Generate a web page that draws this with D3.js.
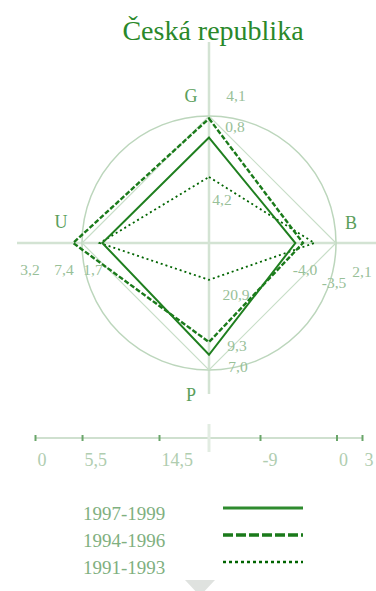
<!DOCTYPE html>
<html>
<head>
<meta charset="utf-8">
<script src="https://cdn.jsdelivr.net/npm/d3@7"></script>
<style>
  html, body { margin: 0; padding: 0; background: #fff; }
  svg { display: block; font-family: "Liberation Serif", "DejaVu Serif", serif; }
</style>
</head>
<body>
<svg id="chart" width="376" height="591"></svg>
<script>
// magic quadrangle, Czech republic
var axes = ["G", "B", "P", "U"];
var periods = ["1997-1999", "1994-1996", "1991-1993"];

// plotted position on each axis, in % of the circle radius (G, B, P, U)
var vals1997 = [83, 68, 88, 84];
var vals1994 = [98, 74, 78, 107];
var vals1991 = [52, 83, 29, 86];

// printed values next to the corners (G, B, P, U)
var labels1997 = ["0,8", "-4,0", "7,0", "7,4"];
var labels1994 = ["4,1", "-3,5", "9,3", "3,2"];
var labels1991 = ["4,2", "2,1", "20,9", "1,7"];

// scale key under the chart
var uTicks = [0, 5.5, 14.5];
var bTicks = [-9, 0, 3];

var series = [
  {name: periods[0], vals: vals1997, labels: labels1997, color: "#1f7f1f", width: 2, dash: null},
  {name: periods[1], vals: vals1994, labels: labels1994, color: "#1a7a1a", width: 2.4, dash: "5,2"},
  {name: periods[2], vals: vals1991, labels: labels1991, color: "#006400", width: 1.8, dash: "2,3"}
];

var svg = d3.select("#chart");
var cx = 209, cy = 243, R = 127;

var r = d3.scaleLinear().domain([0, 100]).range([0, R]);
var angle = d3.scalePoint().domain(axes).range([0, 1.5 * Math.PI]);

svg.append("text")
  .attr("x", 213).attr("y", 40)
  .attr("text-anchor", "middle")
  .attr("font-size", 28)
  .attr("fill", "#2a882a")
  .text("Česká republika");

var g = svg.append("g").attr("transform", "translate(" + cx + "," + cy + ")");

// cross
g.append("line").attr("x1", 0).attr("x2", 0).attr("y1", -201).attr("y2", 151)
  .attr("stroke", "#d3e3d3").attr("stroke-width", 2.5);
g.append("line").attr("x1", -192).attr("x2", 167).attr("y1", 0).attr("y2", 0)
  .attr("stroke", "#d3e3d3").attr("stroke-width", 2.5);

g.append("circle").attr("r", r(100))
  .attr("fill", "none").attr("stroke", "#bcd6bc").attr("stroke-width", 1.5);

var radial = d3.lineRadial()
  .angle(function(d, i) { return angle(axes[i]); })
  .radius(function(d) { return r(d); })
  .curve(d3.curveLinearClosed);

// reference square on the circle
g.append("path").attr("d", radial([100, 100, 100, 100]))
  .attr("fill", "none").attr("stroke", "#c8dec8").attr("stroke-width", 1.2);

series.slice().reverse().forEach(function(s) {
  g.append("path").attr("d", radial(s.vals))
    .attr("fill", "none")
    .attr("stroke", s.color)
    .attr("stroke-width", s.width)
    .attr("stroke-dasharray", s.dash);
});

// axis letters
var letterPos = {G: [-18, -147], B: [142, -20], U: [-148, -21], P: [-18, 152]};
axes.forEach(function(a) {
  g.append("text")
    .attr("x", letterPos[a][0]).attr("y", letterPos[a][1])
    .attr("text-anchor", "middle").attr("dy", "0.35em")
    .attr("font-size", 18).attr("fill", "#5a9e5a")
    .text(a);
});

// value labels, centre of text relative to chart centre: [series][axis]
var labelPos = [
  [[26, -116], [96, 27], [29, 124], [-145, 27]],
  [[27, -147], [125, 40], [28, 103], [-179, 27]],
  [[13, -43], [153, 29], [27, 52], [-116, 27]]
];
series.forEach(function(s, si) {
  s.labels.forEach(function(t, ai) {
    g.append("text")
      .attr("x", labelPos[si][ai][0]).attr("y", labelPos[si][ai][1])
      .attr("text-anchor", "middle").attr("dy", "0.35em")
      .attr("font-size", 15.5).attr("fill", "#98c098")
      .text(t);
  });
});

// scale key
var keyY = 438;
var xU = d3.scaleLinear().domain([0, 14.5]).range([35, 159]);
var xB = d3.scaleLinear().domain([-9, 3]).range([260, 362]);
var fmt = function(d) { return String(d).replace(".", ","); };

svg.append("line").attr("x1", 35).attr("x2", 362).attr("y1", keyY).attr("y2", keyY)
  .attr("stroke", "#cfe0cf").attr("stroke-width", 2);
svg.append("line").attr("x1", cx).attr("x2", cx).attr("y1", keyY - 14).attr("y2", keyY + 14)
  .attr("stroke", "#e2ece2").attr("stroke-width", 3);

[[xU, uTicks], [xB, bTicks]].forEach(function(p) {
  var ax = svg.append("g").attr("transform", "translate(0," + (keyY - 3) + ")")
    .call(d3.axisBottom(p[0]).tickValues(p[1]).tickFormat(fmt).tickSize(6).tickSizeOuter(0));
  ax.select(".domain").remove();
  ax.selectAll(".tick line").attr("stroke", "#6aa66a").attr("stroke-width", 2);
  ax.selectAll(".tick text")
    .attr("font-family", "Liberation Serif, serif").attr("font-size", 18)
    .attr("fill", "#b0cdb0").attr("text-anchor", "start").attr("dx", 2).attr("y", 18);
});

// legend
var legY = d3.scalePoint().domain(periods).range([513, 567]);
series.forEach(function(s) {
  var y = legY(s.name);
  svg.append("text").attr("x", 83).attr("y", y).attr("dy", "0.35em")
    .attr("font-size", 19).attr("fill", "#7fb07f").text(s.name);
  svg.append("line").attr("x1", 223).attr("x2", 303).attr("y1", y - 5).attr("y2", y - 5)
    .attr("stroke", s.dash ? s.color : "#2e8b2e")
    .attr("stroke-width", s.dash === "5,2" ? 3.5 : (s.dash ? 2.5 : 3))
    .attr("stroke-dasharray", s.dash === "5,2" ? "10,3" : (s.dash ? "3,3" : null));
});

// grey marker at bottom
svg.append("path").attr("d", "M185,580 L215,580 L200,596 Z").attr("fill", "#dfe2df");
</script>
</body>
</html>
